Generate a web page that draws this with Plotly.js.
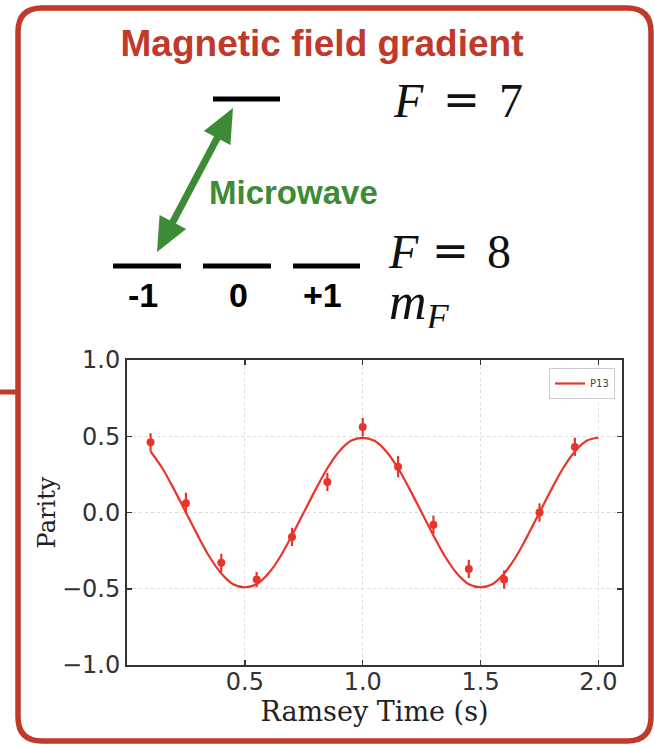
<!DOCTYPE html>
<html>
<head>
<meta charset="utf-8">
<script src="https://cdn.plot.ly/plotly-3.0.1.min.js"></script>
<style>html,body{margin:0;padding:0;background:#fff;}#chart{width:654px;height:745px;}</style>
</head>
<body>
<div id="chart"></div>
<script>
// ---- data ----
const ramseyTimes = [0.10, 0.25, 0.40, 0.55, 0.70, 0.85, 1.00, 1.15, 1.30, 1.45, 1.60, 1.75, 1.90];
const parityValues = [0.46, 0.06, -0.33, -0.44, -0.16, 0.20, 0.56, 0.30, -0.08, -0.37, -0.44, 0.00, 0.43];
const parityErrors = [0.06, 0.07, 0.06, 0.05, 0.06, 0.06, 0.06, 0.07, 0.06, 0.06, 0.06, 0.06, 0.06];
const fitTimes = [0.10, 0.15, 0.20, 0.25, 0.30, 0.35, 0.40, 0.45, 0.50, 0.55, 0.60, 0.65, 0.70, 0.75, 0.80, 0.85, 0.90, 0.95, 1.00,
                  1.05, 1.10, 1.15, 1.20, 1.25, 1.30, 1.35, 1.40, 1.45, 1.50, 1.55, 1.60, 1.65, 1.70, 1.75, 1.80, 1.85, 1.90, 1.95, 2.00];
const fitParity = [0.40, 0.29, 0.15, 0.00, -0.15, -0.29, -0.40, -0.47, -0.49, -0.47, -0.40, -0.29, -0.15, 0.00, 0.15, 0.29, 0.40, 0.47, 0.49,
                   0.47, 0.40, 0.29, 0.15, 0.00, -0.15, -0.29, -0.40, -0.47, -0.49, -0.47, -0.40, -0.29, -0.15, 0.00, 0.15, 0.29, 0.40, 0.47, 0.49];
const seriesName = 'P13';
const xTickVals = [0.5, 1.0, 1.5, 2.0];
const xTickText = ['0.5', '1.0', '1.5', '2.0'];
const yTickVals = [-1.0, -0.5, 0.0, 0.5, 1.0];
const yTickText = ['\u22121.0', '\u22120.5', '0.0', '0.5', '1.0'];
const mFLabels = ['-1', '0', '+1'];
const upperLevel = '7';
const lowerLevel = '8';

// ---- helpers: pixel -> paper coordinates (margins are zero) ----
const W = 654, H = 745;
const px = x => x / W;
const py = y => 1 - y / H;

const RED = '#c0392b';
const GREEN = '#3d8b37';
const LINE = '#e8352b';

// frame with rounded corners
const fl = 18, ft = 8, fr = 651, fb = 741, rad = 24;
const P = (x, y) => px(x) + ',' + py(y);
const framePath = 'M' + P(fl + rad, ft) + ' L' + P(fr - rad, ft) + ' Q' + P(fr, ft) + ' ' + P(fr, ft + rad) +
  ' L' + P(fr, fb - rad) + ' Q' + P(fr, fb) + ' ' + P(fr - rad, fb) +
  ' L' + P(fl + rad, fb) + ' Q' + P(fl, fb) + ' ' + P(fl, fb - rad) +
  ' L' + P(fl, ft + rad) + ' Q' + P(fl, ft) + ' ' + P(fl + rad, ft) + ' Z';

const shapes = [
  {type: 'path', xref: 'paper', yref: 'paper', path: framePath, line: {color: RED, width: 5.5}, fillcolor: 'rgba(0,0,0,0)', layer: 'below'},
  {type: 'line', xref: 'paper', yref: 'paper', x0: px(0), x1: px(fl), y0: py(392), y1: py(392), line: {color: RED, width: 5}},
  // energy levels
  {type: 'line', xref: 'paper', yref: 'paper', x0: px(213), x1: px(280), y0: py(99), y1: py(99), line: {color: '#000', width: 5}},
  {type: 'line', xref: 'paper', yref: 'paper', x0: px(113), x1: px(181), y0: py(266), y1: py(266), line: {color: '#000', width: 5}},
  {type: 'line', xref: 'paper', yref: 'paper', x0: px(203), x1: px(271), y0: py(266), y1: py(266), line: {color: '#000', width: 5}},
  {type: 'line', xref: 'paper', yref: 'paper', x0: px(293), x1: px(360), y0: py(266), y1: py(266), line: {color: '#000', width: 5}}
];

// double headed microwave arrow
(function () {
  const tA = [233, 108], tB = [157, 252];
  const dx = tA[0] - tB[0], dy = tA[1] - tB[1];
  const L = Math.hypot(dx, dy), ux = dx / L, uy = dy / L, nx = -uy, ny = ux;
  const hl = 34, hw = 15;
  const bA = [tA[0] - hl * ux, tA[1] - hl * uy];
  const bB = [tB[0] + hl * ux, tB[1] + hl * uy];
  shapes.push({type: 'line', xref: 'paper', yref: 'paper', x0: px(bA[0] + 2 * ux), y0: py(bA[1] + 2 * uy), x1: px(bB[0] - 2 * ux), y1: py(bB[1] - 2 * uy), line: {color: GREEN, width: 7}});
  const head = (t, b) => 'M' + P(t[0], t[1]) + ' L' + P(b[0] + hw * nx, b[1] + hw * ny) + ' L' + P(b[0] - hw * nx, b[1] - hw * ny) + ' Z';
  shapes.push({type: 'path', xref: 'paper', yref: 'paper', path: head(tA, bA), fillcolor: GREEN, line: {width: 0}});
  shapes.push({type: 'path', xref: 'paper', yref: 'paper', path: head(tB, bB), fillcolor: GREEN, line: {width: 0}});
})();

const ann = (text, x, y, font, extra) => Object.assign({text: text, x: px(x), y: py(y), xref: 'paper', yref: 'paper', showarrow: false, xanchor: 'center', yanchor: 'middle', font: font}, extra || {});
const serif = s => ({family: 'Liberation Serif, Times New Roman, serif', size: s, color: '#111'});
const bold = (s, c) => ({family: 'Liberation Sans, Arial, sans-serif', size: s, color: c, weight: 'bold'});
const eqFont = {family: 'DejaVu Sans, sans-serif', size: 44, color: '#111'};

const annotations = [
  ann('<b>Microwave</b>', 293, 192, bold(33, GREEN)),
  ann('<b>' + mFLabels[0] + '</b>', 143, 295, bold(34, '#000')),
  ann('<b>' + mFLabels[1] + '</b>', 238, 295, bold(34, '#000')),
  ann('<b>' + mFLabels[2] + '</b>', 322, 295, bold(34, '#000')),
  ann('<i>F</i>', 408, 100, serif(48), {height: 40}),
  ann('=', 461, 99, eqFont, {height: 40}),
  ann(upperLevel, 511, 100, serif(48), {height: 40}),
  ann('<i>F</i>', 403, 251, serif(48), {height: 38}),
  ann('=', 450, 250, eqFont, {height: 38}),
  ann(lowerLevel, 499, 251, serif(48), {height: 38}),
  ann('<i>m</i><sub><i>F</i></sub>', 387, 305, serif(52), {xanchor: 'left', height: 46})
];

const traces = [
  {x: fitTimes, y: fitParity, type: 'scatter', mode: 'lines', name: seriesName, line: {color: LINE, width: 2.2, shape: 'spline'}, showlegend: true},
  {x: ramseyTimes, y: parityValues, type: 'scatter', mode: 'markers', name: seriesName + ' data', showlegend: false,
   marker: {color: LINE, size: 8},
   error_y: {type: 'data', array: parityErrors, visible: true, color: LINE, thickness: 2.2, width: 0}}
];

const axisCommon = {
  showline: true, linecolor: '#333', linewidth: 2, mirror: 'ticks',
  ticks: 'inside', ticklen: 5, tickwidth: 1.5, tickcolor: '#333',
  showgrid: true, gridcolor: '#dcdcdc', griddash: 'dot', gridwidth: 1, zeroline: false,
  tickfont: {family: 'DejaVu Sans, sans-serif', size: 24, color: '#333'}
};

const layout = {
  width: W, height: H,
  margin: {l: 0, r: 0, t: 0, b: 0, pad: 0},
  paper_bgcolor: '#fff', plot_bgcolor: '#fff',
  title: {text: '<b>Magnetic field gradient</b>', x: px(322), xanchor: 'center', y: py(43), yanchor: 'middle', yref: 'container', xref: 'container',
          font: {family: 'Liberation Sans, Arial, sans-serif', size: 37, color: RED}},
  xaxis: Object.assign({}, axisCommon, {
    domain: [px(127), px(622)], range: [0, 2.1],
    tickmode: 'array', tickvals: xTickVals, ticktext: xTickText, ticklabelstandoff: -6,
    title: {text: 'Ramsey Time (s)', standoff: 4, font: {family: 'DejaVu Serif, serif', size: 27, color: '#222'}}
  }),
  yaxis: Object.assign({}, axisCommon, {
    domain: [py(665), py(360)], range: [-1, 1],
    tickmode: 'array', tickvals: yTickVals, ticktext: yTickText,
    title: {text: 'Parity', standoff: 0, font: {family: 'DejaVu Serif, serif', size: 24, color: '#222'}}
  }),
  legend: {x: px(615), y: py(368), xanchor: 'right', yanchor: 'top', bgcolor: '#fff', bordercolor: '#ccc', borderwidth: 1,
           font: {family: 'DejaVu Sans, sans-serif', size: 10, color: '#444'}},
  shapes: shapes,
  annotations: annotations
};

Plotly.newPlot('chart', traces, layout, {displayModeBar: false, staticPlot: true});
</script>
</body>
</html>
